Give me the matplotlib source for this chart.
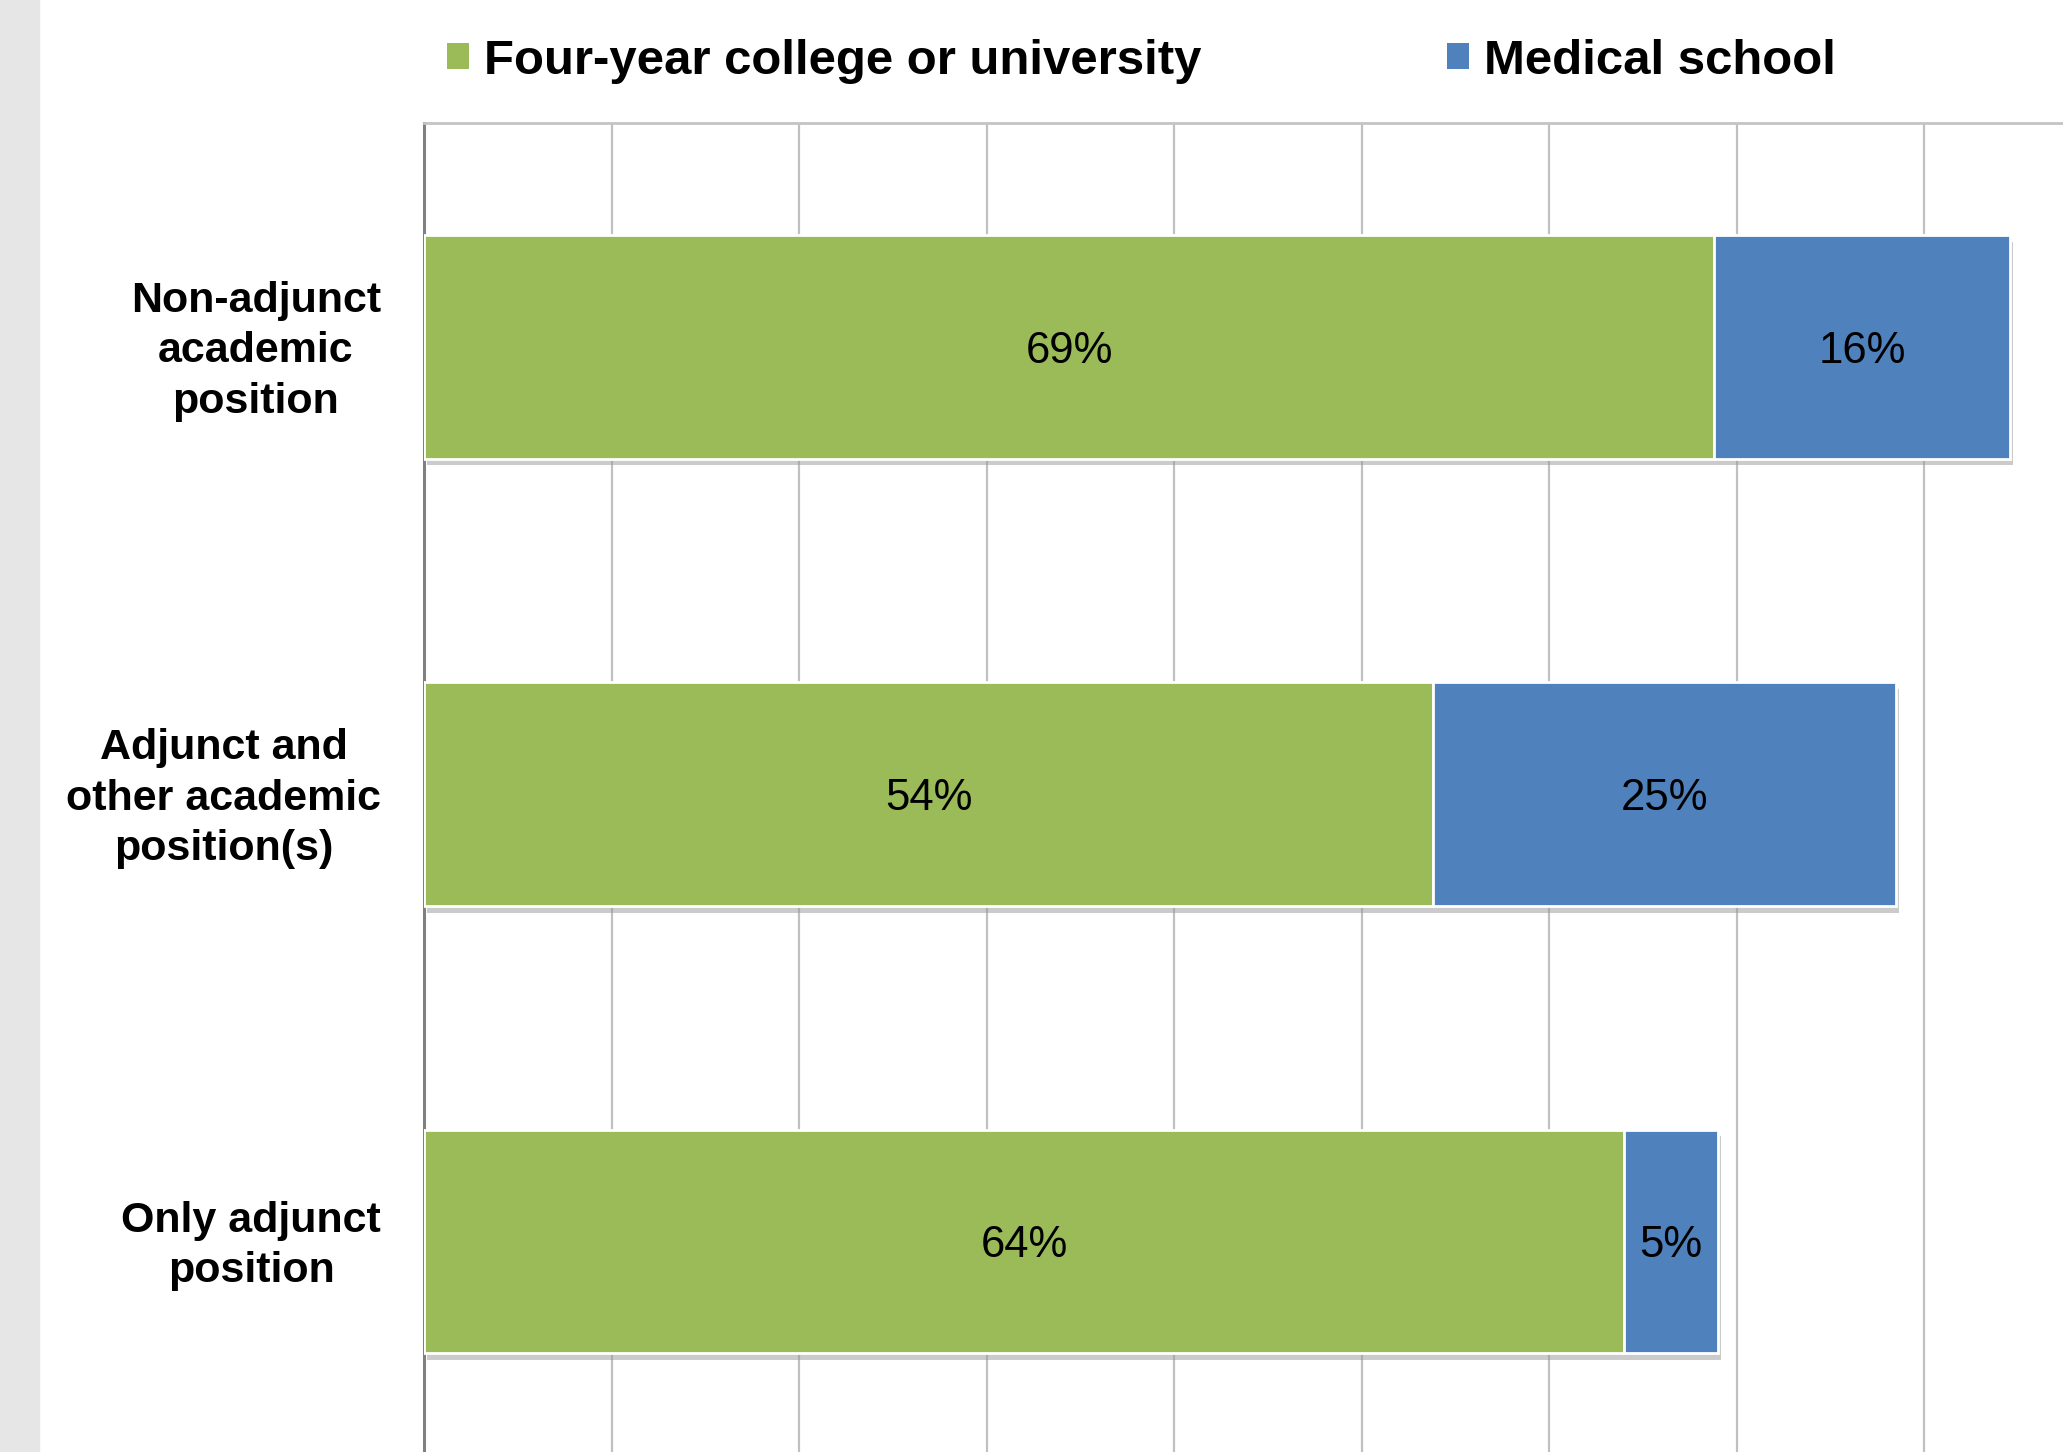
import matplotlib
matplotlib.use("Agg")
import matplotlib.pyplot as plt
import matplotlib.patheffects as pe
import matplotlib.transforms as mtransforms
from matplotlib.patches import Rectangle
import numpy as np

# data (labels show rounded values)
categories = ["Non-adjunct\nacademic\nposition",
              "Adjunct and\nother academic\nposition(s)",
              "Only adjunct\nposition"]
four_year = [68.8, 53.8, 64.0]
medical = [15.8, 24.7, 5.0]
series_names = ["Four-year college or university", "Medical school"]
colors = ["#9BBB59", "#4F81BD"]

plt.rcParams['font.family'] = ['Liberation Sans', 'DejaVu Sans']

fig = plt.figure(figsize=(20.63, 14.52), dpi=100)
# grey strip on the far left
fig.patches.append(Rectangle((0, 0), 39 / 2063, 1, transform=fig.transFigure,
                             color="#e6e6e6", zorder=-1))

ax = fig.add_axes([424 / 2063, -13 / 1452, 1639 / 2063, 1342 / 1452])

y = np.arange(len(categories))
shadow = [pe.SimplePatchShadow(offset=(2, -5), shadow_rgbFace="#999999", alpha=0.5),
          pe.Normal()]

b1 = ax.barh(y, four_year, height=0.5, color=colors[0], edgecolor="white",
             linewidth=2, label=series_names[0], zorder=3)
b2 = ax.barh(y, medical, left=four_year, height=0.5, color=colors[1],
             edgecolor="white", linewidth=2, label=series_names[1], zorder=3)
for bars in (b1, b2):
    for p in bars:
        p.set_path_effects(shadow)

for i in range(len(categories)):
    ax.text(four_year[i] / 2, y[i], f"{four_year[i]:.0f}%", ha="center",
            va="center_baseline", fontsize=31.5, zorder=5)
    ax.text(four_year[i] + medical[i] / 2, y[i], f"{medical[i]:.0f}%",
            ha="center", va="center_baseline", fontsize=31.5, zorder=5)

ax.set_xlim(0, 87.4)
ax.set_ylim(2.5, -0.5)
ax.set_xticks(np.arange(0, 90, 10))
ax.xaxis.grid(True, color="#c0c0c0", linewidth=1.6, zorder=0)
ax.set_axisbelow(True)
ax.tick_params(axis="x", bottom=False, labelbottom=False)
ax.set_yticks(y)
ax.set_yticklabels(categories, fontsize=31, fontweight="bold",
                   multialignment="center", linespacing=1.33)
ax.tick_params(axis="y", length=0, pad=31)
# nudge the category labels up a little
shift = mtransforms.ScaledTranslation(0, 5 / 100, fig.dpi_scale_trans)
for lab in ax.get_yticklabels():
    lab.set_transform(lab.get_transform() + shift)

ax.spines["right"].set_visible(False)
ax.spines["bottom"].set_visible(False)
ax.spines["left"].set_color("#808080")
ax.spines["left"].set_linewidth(2.2)
ax.spines["top"].set_color("#c4c4c4")
ax.spines["top"].set_linewidth(2)

leg = fig.legend(handles=[b1, b2], loc="center left",
                 bbox_to_anchor=(447 / 2063, 1 - 61 / 1452), ncol=2,
                 frameon=False, prop={"size": 35.4, "weight": "bold"},
                 handlelength=0.45, handleheight=0.45, handletextpad=0.3,
                 columnspacing=5.0, borderpad=0, borderaxespad=0)
for h in leg.legend_handles:
    h.set_path_effects([])
    h.set_edgecolor("none")

fig.savefig("out.png", dpi=100)
